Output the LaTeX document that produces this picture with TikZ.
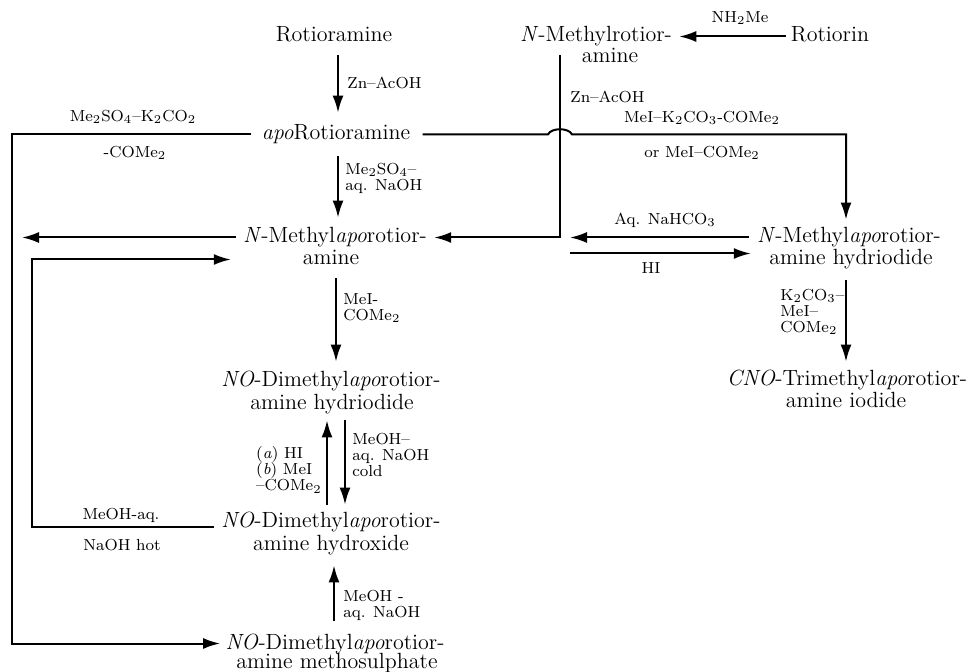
\documentclass[tikz,border=0pt]{standalone}
\usetikzlibrary{arrows.meta,calc}
\begin{document}
\begin{tikzpicture}[x=0.5pt,y=-0.5pt,
  cpd/.style={font=\fontsize{11}{13}\selectfont, inner sep=0pt, text height=7.5pt, text depth=2pt, anchor=base},
  lab/.style={font=\fontsize{8}{8}\selectfont, inner sep=0pt, align=left},
  conn/.style={line width=1pt},
  arr/.style={conn, -{Latex[length=8.5pt,width=5.5pt]}}]
\useasboundingbox (0,0) rectangle (977,672);

% column / free-end coordinates
\coordinate (cA) at (338,0);
\coordinate (cB) at (336,0);
\coordinate (cC) at (327,0);
\coordinate (cD) at (345,0);
\coordinate (cE) at (334,0);
\coordinate (cR) at (846,0);
\coordinate (cV) at (560,0);
\coordinate (cL) at (12,0);
\coordinate (cL2) at (32,0);
\coordinate (cT) at (22,0);
\coordinate (cM) at (570,0);
\coordinate (hA) at (548,0);
\coordinate (hB) at (572,0);

% compounds
\node[cpd] (rot) at (334,42) {Rotioramine};
\node[cpd] (rotiorin) at (830,42) {Rotiorin};
\node[cpd] (nmr) at (596,42) {\textit{N}-Methylrotior-};
\node[cpd] (nmr2) at (610,63) {amine};
\node[cpd] (apo) at (336,140) {\textit{apo}Rotioramine};
\node[cpd] (nma) at (335,243) {\textit{N}-Methyl\textit{apo}rotior-};
\node[cpd] (nma2) at (331,265) {amine};
\node[cpd] (nmh) at (849,243) {\textit{N}-Methyl\textit{apo}rotior-};
\node[cpd] (nmh2) at (851,265) {amine hydriodide};
\node[cpd] (dh) at (331,387) {\textit{NO}-Dimethyl\textit{apo}rotior-};
\node[cpd] (dh2) at (332,409) {amine hydriodide};
\node[cpd] (cno) at (847,386) {\textit{CNO}-Trimethyl\textit{apo}rotior-};
\node[cpd] (cno2) at (846,408) {amine iodide};
\node[cpd] (dx) at (331,527) {\textit{NO}-Dimethyl\textit{apo}rotior-};
\node[cpd] (dx2) at (331,550) {amine hydroxide};
\node[cpd] (dm) at (335,649) {\textit{NO}-Dimethyl\textit{apo}rotior-};
\node[cpd] (dm2) at (337,668) {amine methosulphate};

% connectors
\draw[arr, shorten <=2.5pt, shorten >=3.5pt] (rotiorin.west) -- (nmr.east);
\draw[arr, shorten <=4.5pt, shorten >=6pt] (cA |- rot.south) -- (cA |- apo.north);
\draw[arr, shorten <=6pt, shorten >=5pt] (cA |- apo.south) -- (cA |- nma.north);
\draw[arr, shorten <=4.5pt, shorten >=5pt] (cB |- nma2.south) -- (cB |- dh.north);
\draw[arr, shorten <=3.5pt, shorten >=3.5pt] (cC |- dx.north) -- (cC |- dh2.south);
\draw[arr, shorten <=3.5pt, shorten >=3.5pt] (cD |- dh2.south) -- (cD |- dx.north);
\draw[arr, shorten <=6.5pt, shorten >=5.5pt] (cE |- dm.north) -- (cE |- dx2.south);
\draw[arr, shorten <=5.5pt, shorten >=4.5pt] (cR |- nmh2.south) -- (cR |- cno.north);

\draw[arr, shorten <=5pt, shorten >=2.5pt] (apo.west) -- (cL |- apo.west) -- (cL |- dm.west) -- (dm.west);
\draw[arr, shorten <=6pt, shorten >=4pt] (apo.east) -- (hA |- apo.east)
  .. controls +(3,-7) and +(-3,-7) .. (hB |- apo.east) -- (cR |- apo.east) -- (cR |- nmh.north);
\draw[arr, shorten <=4.5pt, shorten >=3.5pt] (cV |- nmr.south) -- (cV |- nma.east) -- (nma.east);
\draw[arr, shorten <=3.5pt] (nma.west) -- (cT |- nma.west);
\draw[arr, shorten <=3.5pt, shorten >=6pt] (dx.base west) -- (cL2 |- dx.base west) -- (cL2 |- nma2.west) -- (nma.west |- nma2.west);
\draw[arr, shorten <=4pt] (nmh.west) -- (cM |- nmh.west);
\draw[arr, shorten >=3pt] ($(cM |- nmh.west)+(0,16)$) -- ($(nmh.west)+(0,16)$);

% labels
\node[lab] (l1) at (740,18) {NH$_2$Me};
\node[lab, anchor=west] (l2) at (347,83) {Zn--AcOH};
\node[lab] (l3) at (133,117) {Me$_2$SO$_4$--K$_2$CO$_2$};
\node[lab] (l4) at (135,153) {-COMe$_2$};
\node[lab, anchor=west] (l5) at (345,178) {Me$_2$SO$_4$--\\aq. NaOH};
\node[lab, anchor=west] (l6) at (570,97) {Zn--AcOH};
\node[lab] (l7) at (702,118) {MeI--K$_2$CO$_3$-COMe$_2$};
\node[lab] (l8) at (702,153) {or MeI--COMe$_2$};
\node[lab] (l9) at (665,220) {Aq. NaHCO$_3$};
\node[lab] (l10) at (651,268) {HI};
\node[lab, anchor=west] (l11) at (343,308) {MeI-\\COMe$_2$};
\node[lab, anchor=west] (l12) at (780,312) {K$_2$CO$_3$--\\MeI--\\COMe$_2$};
\node[lab, anchor=east] (l13) at (322,470) {(\textit{a}) HI\\(\textit{b}) MeI\\--COMe$_2$};
\node[lab, anchor=west] (l14) at (352,455) {MeOH--\\aq. NaOH\\cold};
\node[lab] (l15) at (121,515) {MeOH-aq.};
\node[lab] (l16) at (122,545) {NaOH hot};
\node[lab, anchor=west] (l17) at (343,605) {MeOH -\\aq. NaOH};
\end{tikzpicture}
\end{document}
